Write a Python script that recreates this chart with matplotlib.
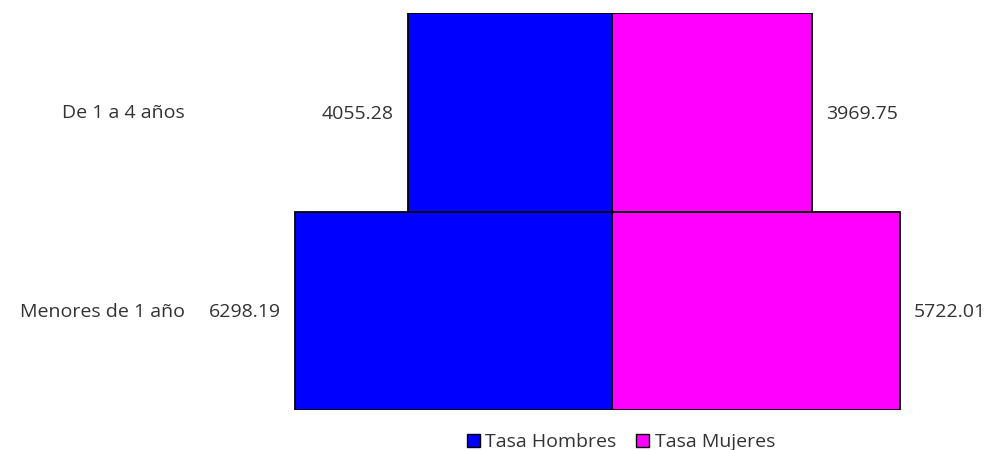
import matplotlib
matplotlib.use("Agg")
import matplotlib.pyplot as plt
from matplotlib.patches import Patch

categories = ["Menores de 1 año", "De 1 a 4 años"]
hombres = [6298.19, 4055.28]
mujeres = [5722.01, 3969.75]
series_names = ["Tasa Hombres", "Tasa Mujeres"]

plt.rcParams['font.family'] = ['Open Sans', 'DejaVu Sans']
txt_color = "#333333"
fs = 14

W, H = 997, 450
fig = plt.figure(figsize=(W/100, H/100), dpi=100)

ax_left_px, ax_right_px = 240, 960
center_px = 612
scale = (612 - 295) / 6298.19  # px per unit
ax = fig.add_axes([ax_left_px/W, 1 - 410/H, (ax_right_px-ax_left_px)/W, (410-13)/H])
ax.set_xlim(-(center_px-ax_left_px)/scale, (ax_right_px-center_px)/scale)
ax.set_ylim(-0.5, 1.5)

ypos = list(range(len(categories)))
ax.barh(ypos, [-v for v in hombres], height=1.0, color="#0000FF", edgecolor="black", linewidth=1.3)
ax.barh(ypos, mujeres, height=1.0, color="#FF00FF", edgecolor="black", linewidth=1.3)

for y, h, m, c in zip(ypos, hombres, mujeres, categories):
    ax.annotate(f"{h:.2f}", xy=(-h, y), xytext=(-10, -1), textcoords="offset points",
                ha="right", va="center", fontsize=fs, color=txt_color)
    ax.annotate(f"{m:.2f}", xy=(m, y), xytext=(10, -1), textcoords="offset points",
                ha="left", va="center", fontsize=fs, color=txt_color)
    fig.text(185/W, 1 - (312 - y*198.5)/H, c, ha="right", va="center", fontsize=fs, color=txt_color)

ax.axis("off")

handles = [Patch(facecolor="#0000FF", edgecolor="black"), Patch(facecolor="#FF00FF", edgecolor="black")]
fig.legend(handles, series_names, loc="center", bbox_to_anchor=(621/W, 1 - 442/H), ncol=2,
           frameon=False, fontsize=fs, handlelength=0.65, handleheight=0.65, handletextpad=0.3,
           columnspacing=1.0, labelcolor=txt_color, borderpad=0)

fig.savefig("out.png", dpi=100)
